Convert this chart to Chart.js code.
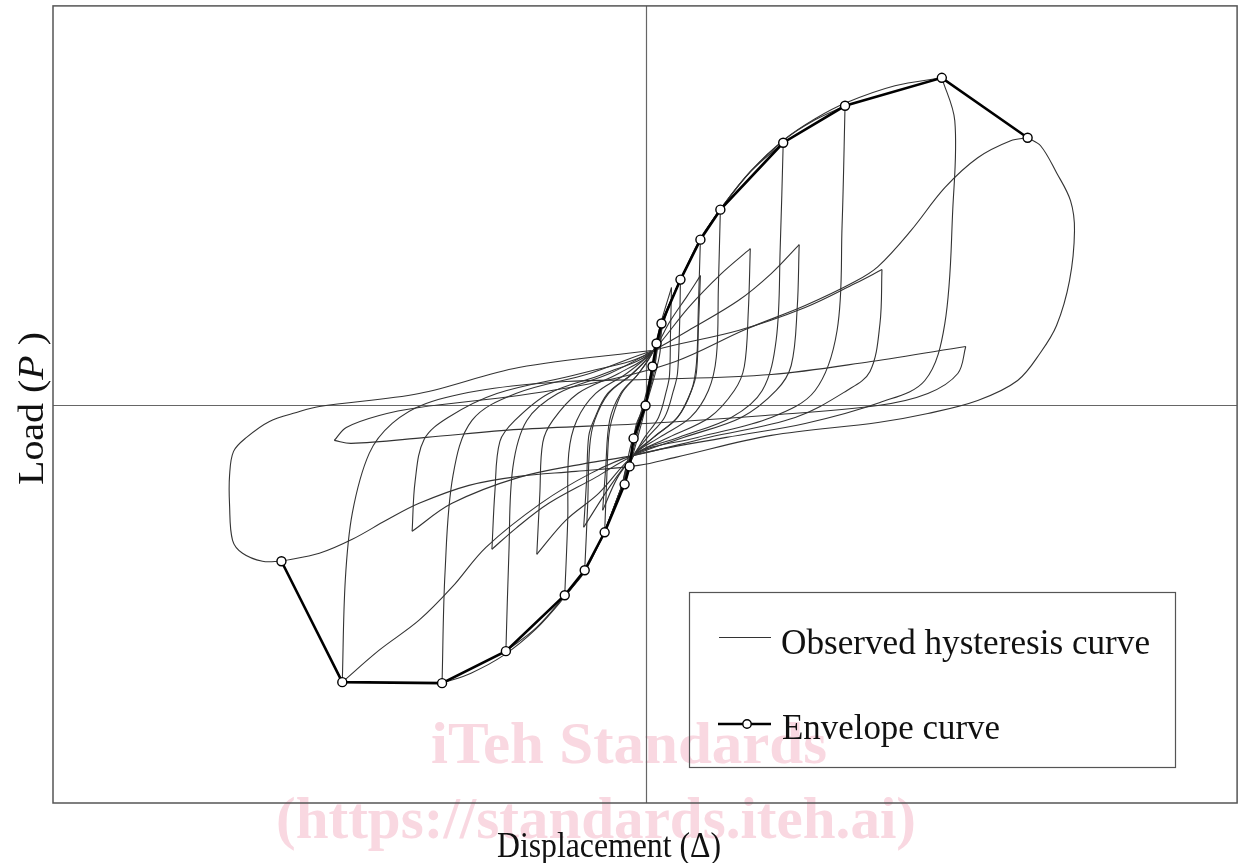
<!DOCTYPE html>
<html>
<head>
<meta charset="utf-8">
<script src="https://cdn.jsdelivr.net/npm/chart.js@4"></script>
<style>
  html, body { margin: 0; padding: 0; background: #fff; }
  #wrap { width: 1243px; height: 863px; }
</style>
</head>
<body>
<div id="wrap"><canvas id="hystChart" width="1243" height="863"></canvas></div>
<script>
// envelope curve (first-cycle peaks), displacement / load
const envDisp = [-36.5, -30.4, -20.4, -14.0, -8.1, -6.1, -4.1, -2.1, -1.6, -1.2, 0, 0.7, 1.1, 1.6, 3.5, 5.5, 7.5, 13.8, 20.0, 29.7, 38.3];
const envLoad = [-15.6, -27.7, -27.8, -24.6, -19.0, -16.5, -12.7, -7.9, -6.1, -3.3, 0, 3.9, 6.2, 8.2, 12.6, 16.6, 19.6, 26.3, 30.0, 32.8, 26.8];

// observed hysteresis record, split into branches (peak to peak), [disp, load]
const stageSmall = [
  [[0, 0], [0.3, 2.0], [0.7, 3.9]],
  [[0.7, 3.9], [0.5, 2.0], [-0.3, -1.0], [-0.9, -2.4], [-1.2, -3.3]],
  [[-1.2, -3.3], [-0.9, -1.8], [0.1, 0.5], [0.6, 3.2], [1.1, 6.2]],
  [[1.1, 6.2], [0.9, 3.5], [-0.2, -0.5], [-1.0, -3.5], [-1.6, -6.1]],
  [[-1.6, -6.1], [-1.2, -3.5], [0.0, 0.2], [0.9, 4.0], [1.6, 8.2]],
  [[1.6, 8.2], [1.4, 5.0], [0.2, 0.5], [-1.0, -4.0], [-2.1, -7.9]],
  [[-2.1, -7.9], [-1.6, -4.5], [-0.2, 0.2], [1.1, 5.5], [2.2, 9.5], [3.5, 12.6]]
];
const stage4 = [
  [[3.5, 12.6], [3.4, 7.6], [3.2, 3.2], [2.8, 1.5], [1.9, -1.2], [0.2, -3.2], [-1.2, -5.0], [-2.5, -8.4], [-4.1, -12.7]],
  [[-4.1, -12.7], [-3.9, -7.6], [-3.7, -3.2], [-3.4, -1.5], [-2.4, 1.2], [-0.7, 3.2], [0.8, 5.5], [1.6, 8.5], [2.6, 11.8]],
  [[2.6, 11.8], [2.5, 7.1], [2.4, 3.0], [2.1, 1.5], [1.3, -1.2], [-0.1, -3.2], [-1.2, -5.0], [-2.8, -7.2], [-4.3, -10.5]],
  [[-4.3, -10.5], [-4.0, -6.3], [-3.6, -1.5], [-2.5, 1.2], [-0.7, 3.2], [0.8, 5.5], [1.8, 8.6], [3.6, 12.8], [5.5, 16.6]]
];
const stage5 = [
  [[5.5, 16.6], [5.3, 10.0], [5.1, 4.2], [4.6, 1.5], [3.2, -1.2], [0.8, -3.2], [-1.2, -5.0], [-2.4, -8.3], [-4.2, -12.9], [-6.1, -16.5]],
  [[-6.1, -16.5], [-5.8, -9.9], [-5.6, -4.1], [-5.1, -1.5], [-3.7, 1.2], [-1.3, 3.2], [0.8, 5.5], [2.5, 8.5], [4.2, 11.0], [5.5, 13.0]],
  [[5.5, 13.0], [5.3, 7.8], [5.1, 3.3], [4.6, 1.5], [3.2, -1.2], [0.8, -3.2], [-1.2, -5.0], [-3.5, -8.0], [-6.2, -12.2]],
  [[-6.2, -12.2], [-5.9, -7.3], [-5.7, -3.1], [-5.2, -1.5], [-3.8, 1.2], [-1.3, 3.2], [0.8, 5.5], [1.8, 8.7], [3.7, 13.0], [5.6, 16.9], [7.5, 19.6]]
];
const stage6 = [
  [[7.5, 19.6], [7.3, 11.8], [7.1, 4.9], [6.3, 1.5], [4.5, -1.2], [1.4, -3.2], [-1.2, -5.0], [-2.5, -8.4], [-4.3, -13.0], [-6.2, -16.8], [-8.1, -19.0]],
  [[-8.1, -19.0], [-7.8, -11.4], [-7.7, -4.8], [-6.9, -1.5], [-5.0, 1.2], [-1.9, 3.2], [0.8, 5.5], [4.3, 9.8], [7.6, 13.2], [10.5, 15.7]],
  [[10.5, 15.7], [10.3, 9.4], [9.9, 3.9], [8.9, 1.5], [6.4, -1.2], [2.3, -3.2], [-1.2, -5.0], [-4.7, -8.8], [-8.0, -11.5], [-10.9, -14.9]],
  [[-10.9, -14.9], [-10.6, -8.9], [-10.3, -3.7], [-9.3, -1.5], [-6.8, 1.2], [-2.7, 3.2], [0.8, 5.5], [1.8, 8.7], [3.7, 13.0], [5.7, 16.9], [7.7, 19.9], [10.5, 23.4], [13.8, 26.3]]
];
const stage7 = [
  [[13.8, 26.3], [13.5, 15.8], [13.1, 6.6], [11.7, 1.5], [8.6, -1.2], [3.3, -3.2], [-1.2, -5.0], [-2.5, -8.4], [-4.3, -13.0], [-6.3, -16.8], [-8.3, -19.3], [-11.0, -22.3], [-14.0, -24.6]],
  [[-14.0, -24.6], [-13.7, -14.8], [-13.3, -6.2], [-11.9, -1.5], [-8.8, 1.2], [-3.6, 3.2], [0.8, 5.5], [4.3, 7.5], [9.3, 10.5], [12.6, 13.2], [15.4, 16.1]],
  [[15.4, 16.1], [15.2, 9.7], [14.6, 4.0], [13.1, 1.5], [9.6, -1.2], [3.8, -3.2], [-1.2, -5.0], [-5.0, -7.2], [-9.7, -9.8], [-13.0, -12.3], [-15.4, -14.4]],
  [[-15.4, -14.4], [-15.1, -8.6], [-14.6, -3.6], [-13.1, -1.5], [-9.7, 1.2], [-4.1, 3.2], [0.8, 5.5], [1.8, 8.7], [3.7, 13.0], [5.7, 16.9], [7.7, 19.9], [10.6, 23.5], [13.9, 26.6], [17.0, 28.6], [20.0, 30.0]]
];
const stage8 = [
  [[20.0, 30.0], [19.7, 18.0], [19.2, 7.5], [17.0, 1.5], [12.6, -1.2], [5.2, -3.2], [-1.2, -5.0], [-2.5, -8.4], [-4.3, -13.0], [-6.3, -16.8], [-8.3, -19.4], [-11.0, -22.4], [-14.2, -25.0], [-17.5, -26.8], [-20.4, -27.8]],
  [[-20.4, -27.8], [-20.1, -16.7], [-19.3, -7.0], [-17.4, -1.5], [-13.0, 1.2], [-5.6, 3.2], [0.8, 5.5], [9.3, 7.5], [16.0, 9.8], [21.0, 12.2], [23.7, 13.6]],
  [[23.7, 13.6], [23.5, 8.2], [22.5, 3.4], [20.2, 1.5], [15.0, -1.2], [6.3, -3.2], [-1.2, -5.0], [-6.0, -5.8], [-12.7, -7.2], [-19.4, -9.8], [-23.4, -12.6]],
  [[-23.4, -12.6], [-23.1, -7.6], [-22.2, -3.4], [-19.8, -1.2], [-14.9, 1.2], [-6.5, 3.2], [0.8, 5.5], [1.8, 8.7], [3.7, 13.0], [5.7, 16.9], [7.7, 19.9], [10.6, 23.5], [13.9, 26.6], [17.0, 28.7], [20.1, 30.3], [25.0, 32.0], [29.7, 32.8]]
];
const stage9 = [
  [[29.7, 32.8], [31.0, 28.5], [30.8, 19.7], [30.0, 8.2], [28.0, 2.5], [23.5, 0.3], [16.0, -1.8], [8.1, -3.2], [-1.2, -5.0], [-5.5, -6.8], [-10.5, -9.8], [-16.0, -14.2], [-19.4, -18.2], [-22.7, -21.5], [-26.7, -24.5], [-30.4, -27.7]],
  [[-30.4, -27.7], [-30.1, -17.5], [-29.4, -10.8], [-27.7, -4.8], [-25.4, -1.8], [-22.0, 0.2], [-16.0, 1.6], [-8.0, 2.4], [0.0, 2.6], [12.6, 3.1], [22.6, 4.4], [32.1, 5.9]],
  [[32.1, 5.9], [31.3, 3.2], [28.3, 1.2], [23.3, 0.0], [12.0, -1.0], [0.0, -1.8], [-12.7, -2.4], [-22.0, -3.2], [-29.5, -3.8], [-31.2, -3.5]],
  [[-31.2, -3.5], [-30.0, -2.2], [-26.7, -1.0], [-22.7, -0.2], [-12.7, 1.0], [-4.0, 2.5], [3.0, 4.4], [10.0, 7.6], [16.0, 10.0], [21.0, 12.4], [23.3, 13.9], [26.6, 17.5], [30.0, 21.8], [33.3, 24.8], [36.6, 26.5], [38.3, 26.8]]
];
const stage10 = [
  [[38.3, 26.8], [39.6, 26.0], [41.2, 23.3], [42.6, 20.5], [43.0, 17.5], [42.5, 12.5], [41.2, 8.0], [39.6, 5.3], [37.3, 2.5], [33.3, 0.5], [28.3, -0.8], [23.3, -1.7], [12.6, -3.0], [3.0, -5.2], [-0.7, -6.0], [-7.0, -6.6], [-12.7, -7.1], [-17.7, -8.0], [-22.7, -9.8], [-26.0, -11.5], [-29.4, -13.4], [-32.7, -14.8], [-36.5, -15.6]],
  [[-36.5, -15.6], [-38.4, -15.6], [-40.4, -14.8], [-41.4, -13.5], [-41.7, -10.0], [-41.7, -7.0], [-41.3, -4.6], [-40.0, -3.2], [-37.7, -1.6], [-35.0, -0.7], [-32.7, -0.1], [-22.7, 1.2], [-12.7, 3.8], [0.6, 5.5]]
];

const xRange = [-59.4, 59.3];
const yRange = [-39.8, 40.0];
const titleX = 'Displacement (\u0394)';
const legendLabels = ['Observed hysteresis curve', 'Envelope curve'];
const watermark = ['iTeh Standards', '(https://standards.iteh.ai)'];

const serif = '"Liberation Serif", "DejaVu Serif", serif';

function toXY(branch) {
  return branch.map(p => ({ x: p[0], y: p[1] }));
}

// draws text starting at left/baseline, squeezed to a given width
function fitText(ctx, text, left, base, width) {
  const w = ctx.measureText(text).width;
  ctx.save();
  ctx.translate(left, base);
  ctx.scale(width / w, 1);
  ctx.fillText(text, 0, 0);
  ctx.restore();
}

const hystSets = [];
[stageSmall, stage4, stage5, stage6, stage7, stage8, stage9, stage10].forEach(stage => {
  stage.forEach(branch => {
    hystSets.push({
      data: toXY(branch),
      showLine: true,
      borderColor: '#333',
      borderWidth: 1.1,
      pointRadius: 0,
      pointHitRadius: 0,
      tension: 0.35,
      order: 2
    });
  });
});

const envelopeSet = {
  data: envDisp.map((x, i) => ({ x: x, y: envLoad[i] })),
  showLine: true,
  borderColor: '#000',
  borderWidth: 2.6,
  pointRadius: 4.5,
  pointBackgroundColor: '#fff',
  pointBorderColor: '#000',
  pointBorderWidth: 1.4,
  tension: 0,
  order: 1
};

const decor = {
  id: 'decor',
  beforeDraw(chart) {
    const ctx = chart.ctx;
    ctx.save();
    ctx.fillStyle = '#fff';
    ctx.fillRect(0, 0, chart.width, chart.height);
    ctx.fillStyle = '#f9d8e1';
    ctx.font = 'bold 60px ' + serif;
    fitText(ctx, watermark[0], 431, 763, 396);
    ctx.font = 'bold 59px ' + serif;
    fitText(ctx, watermark[1], 276, 838, 640);
    ctx.restore();
  },
  beforeDatasetsDraw(chart) {
    const { ctx, chartArea: a, scales } = chart;
    const x0 = Math.round(scales.x.getPixelForValue(0)) + 0.5;
    const y0 = Math.round(scales.y.getPixelForValue(0)) + 0.5;
    ctx.save();
    ctx.strokeStyle = '#666';
    ctx.lineWidth = 1.2;
    ctx.beginPath();
    ctx.moveTo(x0, a.top); ctx.lineTo(x0, a.bottom);
    ctx.moveTo(a.left, y0); ctx.lineTo(a.right, y0);
    ctx.stroke();
    ctx.strokeStyle = '#555';
    ctx.lineWidth = 1.5;
    ctx.strokeRect(a.left, a.top, a.right - a.left, a.bottom - a.top);
    ctx.restore();
  },
  afterDraw(chart) {
    const ctx = chart.ctx;
    ctx.save();
    ctx.fillStyle = '#111';
    ctx.textBaseline = 'alphabetic';

    // x title
    ctx.font = '35px ' + serif;
    fitText(ctx, titleX, 497, 857, 224);

    // y title, rotated, with italic P
    const partA = 'Load (', partB = 'P', partC = ' )';
    ctx.font = '35px ' + serif;
    const wA = ctx.measureText(partA).width, wC = ctx.measureText(partC).width;
    ctx.font = 'italic 35px ' + serif;
    const wB = ctx.measureText(partB).width;
    const s = 153 / (wA + wB + wC);
    ctx.translate(43, 485);
    ctx.rotate(-Math.PI / 2);
    ctx.scale(s, 1);
    ctx.font = '35px ' + serif;
    ctx.fillText(partA, 0, 0);
    ctx.font = 'italic 35px ' + serif;
    ctx.fillText(partB, wA, 0);
    ctx.font = '35px ' + serif;
    ctx.fillText(partC, wA + wB, 0);
    ctx.restore();

    // legend box
    ctx.save();
    ctx.strokeStyle = '#555';
    ctx.lineWidth = 1.2;
    ctx.strokeRect(689.5, 592.5, 486, 175);
    ctx.strokeStyle = '#333';
    ctx.lineWidth = 1.1;
    ctx.beginPath();
    ctx.moveTo(719, 637.5); ctx.lineTo(771, 637.5);
    ctx.stroke();
    ctx.strokeStyle = '#000';
    ctx.lineWidth = 2.6;
    ctx.beginPath();
    ctx.moveTo(718, 724); ctx.lineTo(771, 724);
    ctx.stroke();
    ctx.beginPath();
    ctx.arc(747, 724, 4.2, 0, Math.PI * 2);
    ctx.fillStyle = '#fff';
    ctx.fill();
    ctx.lineWidth = 1.4;
    ctx.stroke();
    ctx.fillStyle = '#111';
    ctx.font = '35px ' + serif;
    fitText(ctx, legendLabels[0], 781, 654, 369);
    fitText(ctx, legendLabels[1], 782, 739, 218);
    ctx.restore();
  }
};

new Chart(document.getElementById('hystChart'), {
  type: 'scatter',
  data: { datasets: [envelopeSet].concat(hystSets) },
  options: {
    responsive: false,
    animation: false,
    devicePixelRatio: 1,
    layout: { padding: { left: 53, top: 5, right: 3, bottom: 60 } },
    plugins: { legend: { display: false }, tooltip: { enabled: false } },
    scales: {
      x: { type: 'linear', min: xRange[0], max: xRange[1], display: false },
      y: { type: 'linear', min: yRange[0], max: yRange[1], display: false }
    }
  },
  plugins: [decor]
});
</script>
</body>
</html>
